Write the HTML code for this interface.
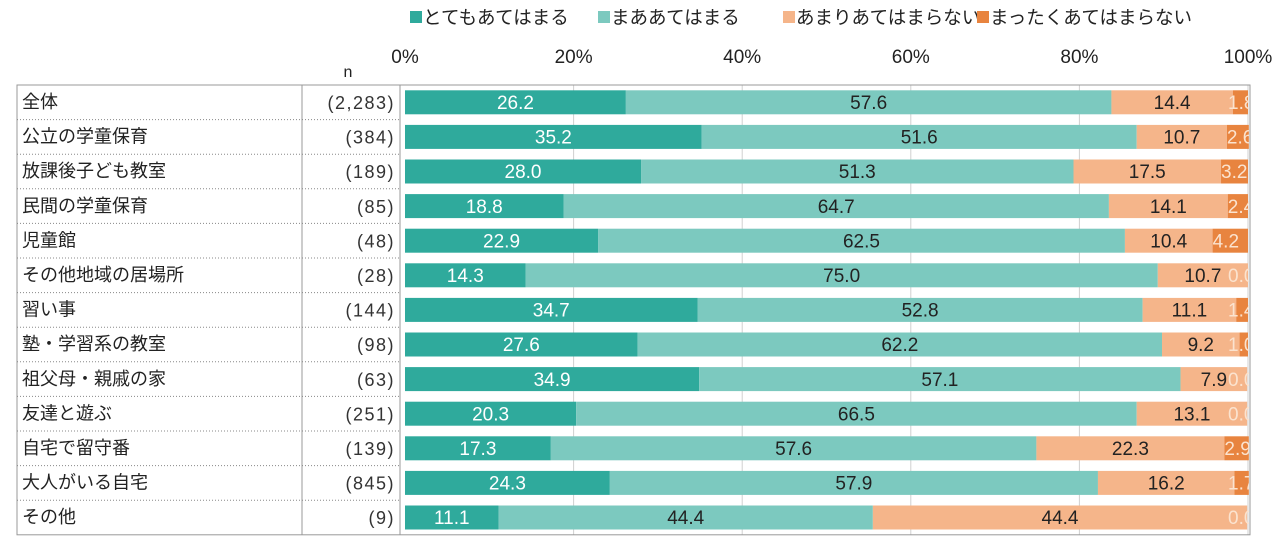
<!DOCTYPE html>
<html><head><meta charset="utf-8">
<style>
body{margin:0;background:#fff;width:1276px;height:540px;overflow:hidden;font-family:"Liberation Sans","Noto Sans CJK JP",sans-serif;}
svg text{font-family:"Liberation Sans","Noto Sans CJK JP",sans-serif;}
</style></head>
<body>
<svg id="chart" width="1276" height="540"></svg>
<script>
const categories=["全体","公立の学童保育","放課後子ども教室","民間の学童保育","児童館","その他地域の居場所","習い事","塾・学習系の教室","祖父母・親戚の家","友達と遊ぶ","自宅で留守番","大人がいる自宅","その他"];
const nLabels=["(2,283)","(384)","(189)","(85)","(48)","(28)","(144)","(98)","(63)","(251)","(139)","(845)","(9)"];
const s1=[26.2,35.2,28.0,18.8,22.9,14.3,34.7,27.6,34.9,20.3,17.3,24.3,11.1];
const s2=[57.6,51.6,51.3,64.7,62.5,75.0,52.8,62.2,57.1,66.5,57.6,57.9,44.4];
const s3=[14.4,10.7,17.5,14.1,10.4,10.7,11.1,9.2,7.9,13.1,22.3,16.2,44.4];
const s4=[1.8,2.6,3.2,2.4,4.2,0.0,1.4,1.0,0.0,0.0,2.9,1.7,0.0];
const seriesNames=["とてもあてはまる","まああてはまる","あまりあてはまらない","まったくあてはまらない"];
const ticks=[0,20,40,60,80,100];

const NS="http://www.w3.org/2000/svg";
const svg=document.getElementById('chart');
const colors=["#2FAA9C","#7CC9BF","#F5B58A","#E8843F"];
const textColors=["#fff","#222","#222","#FBE3CF"];
const x0=405,x1=1248,top0=85,rowH=34.6,barH=24;
const xs=v=>x0+(x1-x0)*v/100;
const yr=i=>top0+i*rowH;
function el(tag,attrs,parent){const e=document.createElementNS(NS,tag);for(const k in attrs)e.setAttribute(k,attrs[k]);(parent||svg).appendChild(e);return e;}

const defs=el('defs',{});
const cp=el('clipPath',{id:'clipR'},defs);
el('rect',{x:0,y:0,width:x1+1,height:540},cp);

// legend
const legX=[410,598,783,977];
seriesNames.forEach((nm,i)=>{
  const g=el('g',{});
  
  
  el('rect',{x:legX[i],y:11,width:12,height:12,fill:colors[i]},g);
  const t=el('text',{x:legX[i]+13,y:24,'font-size':18.5,fill:'#222'},g);t.textContent=nm;
});
// ticks
ticks.forEach(v=>{
  const t=el('text',{x:xs(v),y:63,'font-size':19,'text-anchor':'middle',fill:'#222'});
  
  
  t.textContent=v+'%';
  if(v>0){const l=el('line',{x1:xs(v),x2:xs(v),y1:top0,y2:yr(13),stroke:'#d0d0d0','stroke-width':1});
  }
});
const nh=el('text',{x:348,y:77,'font-size':16,'text-anchor':'middle',fill:'#222'});nh.textContent='n';


// table frame
el('rect',{x:17,y:top0,width:x1+2-17,height:rowH*13,fill:'none',stroke:'#999','stroke-width':1});
el('line',{x1:302,x2:302,y1:top0,y2:yr(13),stroke:'#999'});
el('line',{x1:400,x2:400,y1:top0,y2:yr(13),stroke:'#999'});
const series=[s1,s2,s3,s4];
categories.forEach((c,i)=>{
  const y=yr(i);
  if(i>0) el('line',{x1:17,x2:400,y1:y,y2:y,stroke:'#888','stroke-dasharray':'1,2'});
  const t=el('text',{x:22,y:y+23,'font-size':18,fill:'#222'});t.textContent=c;
  
  
  const n=el('text',{x:395,y:y+24,'font-size':18,'text-anchor':'end',fill:'#333','letter-spacing':1.5});n.textContent=nLabels[i];
  
  
  let acc=0;
  series.forEach((s,k)=>{
    const v=s[i];
    const r=el('rect',{x:xs(acc),y:y+(rowH-barH)/2,width:Math.max(0,xs(acc+v)-xs(acc)),height:barH,fill:colors[k]});
    
    
    const cx=(xs(acc)+xs(acc+v))/2;
    const lt=el('text',{x:cx,y:y+24,'font-size':19,'text-anchor':k===3?'start':'middle',fill:textColors[k]});
    
    
    lt.textContent=v.toFixed(1);
    if(k===3){lt.setAttribute('x',Math.min(xs(acc),x1-20));lt.setAttribute('clip-path','url(#clipR)');}
    acc+=v;
  });
});
</script>
</body></html>
